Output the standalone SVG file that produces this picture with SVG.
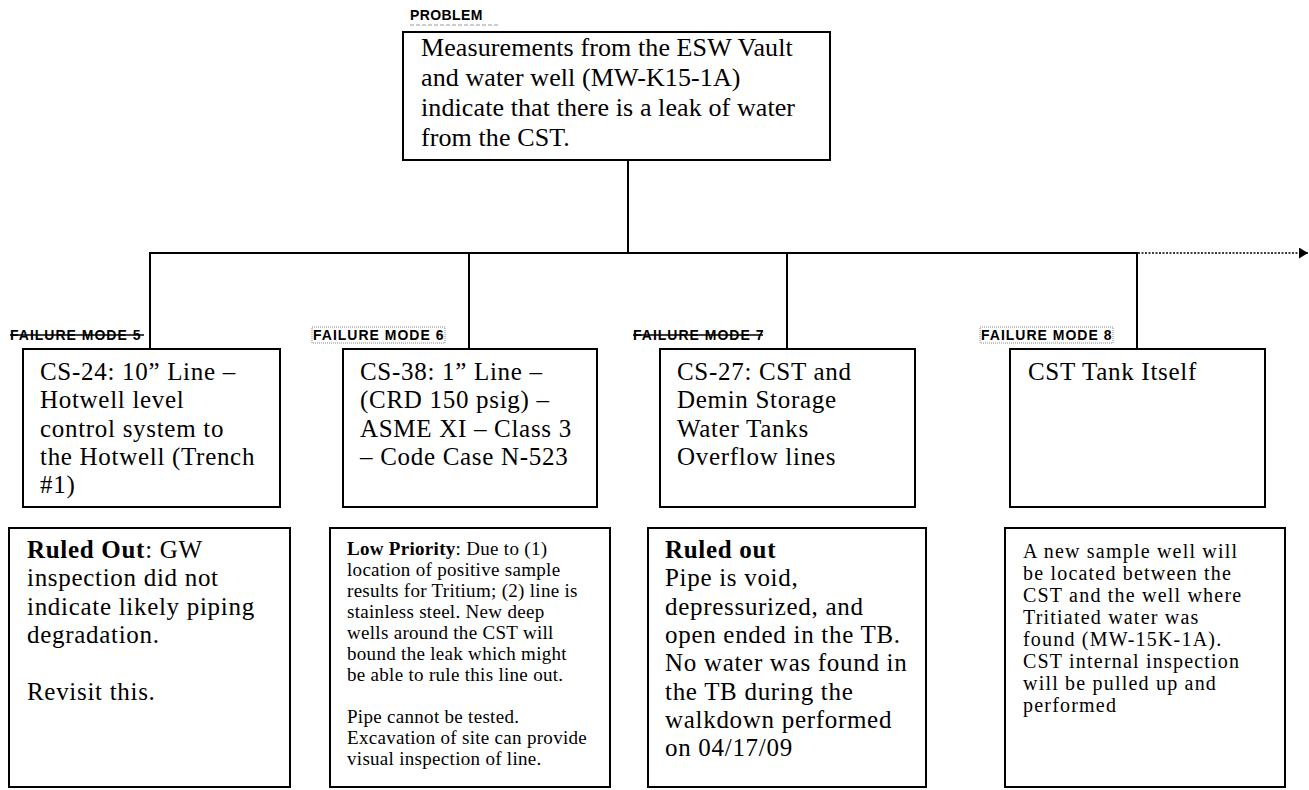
<svg xmlns="http://www.w3.org/2000/svg" width="1309" height="790" viewBox="0 0 1309 790">
<defs>
<marker id="arr" viewBox="0 0 9 11" refX="9" refY="5.5" markerWidth="9" markerHeight="11" markerUnits="userSpaceOnUse" orient="auto"><path d="M0,0 L9,5.5 L0,11 z" fill="#000"/></marker>
</defs>
<style>
.box{fill:#fff;stroke:#000;stroke-width:2}
.t{font-family:"Liberation Serif","Times New Roman",serif;fill:#000}
.s25{font-size:25px;letter-spacing:0.7px}
.s26{font-size:26px;letter-spacing:0.1px}
.s20{font-size:20px;letter-spacing:1.2px}
.s19{font-size:19px;letter-spacing:0.3px}
.b{font-weight:bold}
.lbl{font-family:"Liberation Sans",Arial,sans-serif;font-weight:bold;font-size:14px;letter-spacing:1px;fill:#000}
.ln{stroke:#000;stroke-width:2;fill:none}
.dot{stroke:#000;stroke-width:1.5;stroke-dasharray:2 1.5;fill:none}
.hl{fill:none;stroke:#888;stroke-width:1;stroke-dasharray:1 1}
.strike{stroke:#000;stroke-width:1.5}
</style>
<rect width="1309" height="790" fill="#fff"/>

<g id="connectors">
<line class="ln" x1="628" y1="160" x2="628" y2="253"/>
<line class="ln" x1="149" y1="253" x2="1138" y2="253"/>
<line class="ln" x1="150" y1="253" x2="150" y2="349"/>
<line class="ln" x1="469" y1="253" x2="469" y2="349"/>
<line class="ln" x1="787" y1="253" x2="787" y2="349"/>
<line class="ln" x1="1137" y1="253" x2="1137" y2="349"/>
<line class="dot" x1="1138" y1="253" x2="1308" y2="253" marker-end="url(#arr)"/>
</g>

<g id="problem">
<text class="lbl" x="410" y="20" style="letter-spacing:0.4px">PROBLEM</text>
<line x1="410" y1="25" x2="498" y2="25" stroke="#999" stroke-width="1" stroke-dasharray="4 2"/>
<rect class="box" x="403" y="32" width="427" height="128"/>
<text class="t s26" x="421" y="56">Measurements from the ESW Vault</text>
<text class="t s26" x="421" y="86">and water well (MW-K15-1A)</text>
<text class="t s26" x="421" y="116">indicate that there is a leak of water</text>
<text class="t s26" x="421" y="146">from the CST.</text>
</g>

<g id="fm5">
<text class="lbl" x="10" y="340">FAILURE MODE 5</text>
<line class="strike" x1="10" y1="335" x2="144" y2="335"/>
<rect class="box" x="23" y="349" width="257" height="158"/>
<text class="t s25" x="40" y="380">CS-24: 10” Line –</text>
<text class="t s25" x="40" y="408.3">Hotwell level</text>
<text class="t s25" x="40" y="436.6">control system to</text>
<text class="t s25" x="40" y="465">the Hotwell (Trench</text>
<text class="t s25" x="40" y="493.3">#1)</text>
</g>

<g id="fm6">
<rect class="hl" x="312" y="327" width="133" height="16"/>
<text class="lbl" x="313" y="340">FAILURE MODE 6</text>
<rect class="box" x="343" y="349" width="254" height="158"/>
<text class="t s25" x="360" y="380">CS-38: 1” Line –</text>
<text class="t s25" x="360" y="408.3">(CRD 150 psig) –</text>
<text class="t s25" x="360" y="436.6">ASME XI – Class 3</text>
<text class="t s25" x="360" y="465">– Code Case N-523</text>
</g>

<g id="fm7">
<text class="lbl" x="633" y="340">FAILURE MODE 7</text>
<line class="strike" x1="633" y1="335" x2="763" y2="335"/>
<rect class="box" x="660" y="349" width="255" height="158"/>
<text class="t s25" x="677" y="380">CS-27: CST and</text>
<text class="t s25" x="677" y="408.3">Demin Storage</text>
<text class="t s25" x="677" y="436.6">Water Tanks</text>
<text class="t s25" x="677" y="465">Overflow lines</text>
</g>

<g id="fm8">
<rect class="hl" x="980" y="327" width="133" height="16"/>
<text class="lbl" x="981" y="340">FAILURE MODE 8</text>
<rect class="box" x="1010" y="349" width="255" height="158"/>
<text class="t s25" x="1028" y="380">CST Tank Itself</text>
</g>

<g id="result5">
<rect class="box" x="9" y="528" width="281" height="259"/>
<text class="t s25" x="27" y="558"><tspan class="b">Ruled Out</tspan>:  GW</text>
<text class="t s25" x="27" y="586.3">inspection did not</text>
<text class="t s25" x="27" y="614.6">indicate likely piping</text>
<text class="t s25" x="27" y="643">degradation.</text>
<text class="t s25" x="27" y="700">Revisit this.</text>
</g>

<g id="result6">
<rect class="box" x="330" y="528" width="280" height="259"/>
<text class="t s19" x="347" y="555"><tspan class="b">Low Priority</tspan>:  Due to (1)</text>
<text class="t s19" x="347" y="576">location of positive sample</text>
<text class="t s19" x="347" y="597">results for Tritium; (2) line is</text>
<text class="t s19" x="347" y="618">stainless steel.  New deep</text>
<text class="t s19" x="347" y="639">wells around the CST will</text>
<text class="t s19" x="347" y="660">bound the leak which might</text>
<text class="t s19" x="347" y="681">be able to rule this line out.</text>
<text class="t s19" x="347" y="723">Pipe cannot be tested.</text>
<text class="t s19" x="347" y="744">Excavation of site can provide</text>
<text class="t s19" x="347" y="765">visual inspection of line.</text>
</g>

<g id="result7">
<rect class="box" x="648" y="528" width="278" height="259"/>
<text class="t s25 b" x="665" y="558">Ruled out</text>
<text class="t s25" x="665" y="586.3">Pipe is void,</text>
<text class="t s25" x="665" y="614.6">depressurized, and</text>
<text class="t s25" x="665" y="643">open ended in the TB.</text>
<text class="t s25" x="665" y="671.3">No water was found in</text>
<text class="t s25" x="665" y="699.6">the TB during the</text>
<text class="t s25" x="665" y="728">walkdown performed</text>
<text class="t s25" x="665" y="756.3">on 04/17/09</text>
</g>

<g id="result8">
<rect class="box" x="1005" y="528" width="280" height="259"/>
<text class="t s20" x="1023" y="558">A new sample well will</text>
<text class="t s20" x="1023" y="580">be located between the</text>
<text class="t s20" x="1023" y="602">CST and the well where</text>
<text class="t s20" x="1023" y="624">Tritiated water was</text>
<text class="t s20" x="1023" y="646">found (MW-15K-1A).</text>
<text class="t s20" x="1023" y="668">CST internal inspection</text>
<text class="t s20" x="1023" y="690">will be pulled up and</text>
<text class="t s20" x="1023" y="712">performed</text>
</g>
</svg>
